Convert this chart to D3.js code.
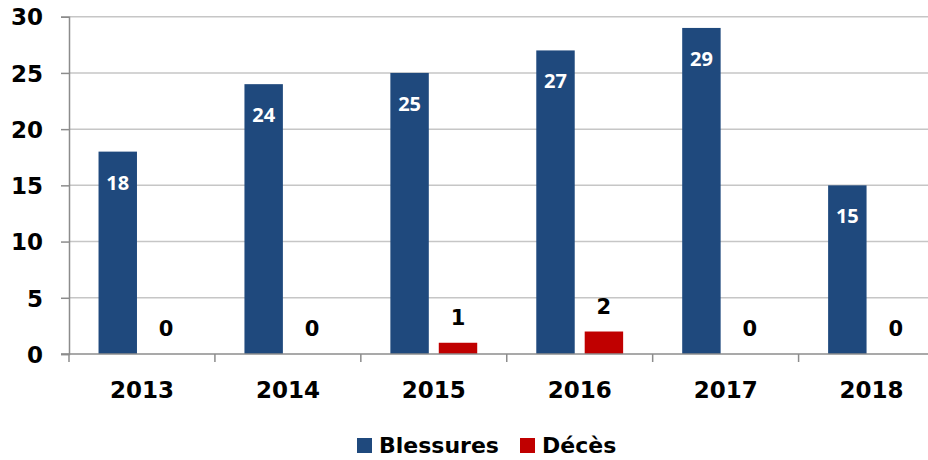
<!DOCTYPE html>
<html>
<head>
<meta charset="utf-8">
<script src="https://cdn.jsdelivr.net/npm/d3@7"></script>
<style>
  body { margin: 0; background: #fff; }
  svg text { font-family: "DejaVu Sans", sans-serif; font-weight: bold; }
</style>
</head>
<body>
<svg id="chart" width="928" height="460"></svg>
<script>
var years = ["2013", "2014", "2015", "2016", "2017", "2018"];
var blessures = [18, 24, 25, 27, 29, 15];
var deces = [0, 0, 1, 2, 0, 0];
var series = ["Blessures", "Décès"];
var colors = ["#1f497d", "#c00000"];
var y_ticks = [0, 5, 10, 15, 20, 25, 30];

var svg = d3.select("#chart");
var plot_left = 69, plot_right = 944.5, plot_top = 16.7, plot_bottom = 354;

var x = d3.scaleBand().domain(years).range([plot_left, plot_right]).paddingInner(0).paddingOuter(0);
var x_sub = d3.scaleBand().domain(series).range([0, x.bandwidth()]).paddingInner(0.206).paddingOuter(0.61);
var y = d3.scaleLinear().domain([0, 30]).range([plot_bottom, plot_top]);

var rows = years.map(function(d, i) {
    return { year: d, values: [blessures[i], deces[i]] };
});

// gridlines
svg.append("g")
    .selectAll("line")
    .data(y_ticks.slice(1))
    .enter()
    .append("line")
        .attr("x1", plot_left).attr("x2", 928)
        .attr("y1", function(d) { return y(d); })
        .attr("y2", function(d) { return y(d); })
        .attr("stroke", "#c6c6c6")
        .attr("stroke-width", 1.5)

// y axis
var y_axis = svg.append("g")
    .attr("transform", "translate(" + plot_left + ",0)")
    .call(d3.axisLeft(y).tickValues(y_ticks).tickSize(8).tickPadding(18))
y_axis.select(".domain").attr("stroke", "#8c8c8c").attr("stroke-width", 1.5)
y_axis.selectAll(".tick line").attr("stroke", "#8c8c8c").attr("stroke-width", 1.5)
y_axis.selectAll(".tick text")
    .attr("fill", "#000")
    .style("font-size", "23px")
    .attr("dy", "0.36em")

// bars
var groups = svg.append("g")
    .selectAll("g")
    .data(rows)
    .enter()
    .append("g")
        .attr("transform", function(d) { return "translate(" + x(d.year) + ",0)"; })

groups.selectAll("rect")
    .data(function(d) { return d.values; })
    .enter()
    .append("rect")
        .attr("x", function(d, i) { return x_sub(series[i]); })
        .attr("width", x_sub.bandwidth())
        .attr("y", function(d) { return y(d); })
        .attr("height", function(d) { return plot_bottom - y(d); })
        .attr("fill", function(d, i) { return colors[i]; })

// labels
groups.append("text")
    .attr("x", x_sub("Blessures") + x_sub.bandwidth() / 2)
    .attr("y", function(d) { return y(d.values[0]) + 38; })
    .attr("text-anchor", "middle")
    .attr("fill", "#fff")
    .style("font-family", "'Open Sans', sans-serif")
    .style("font-size", "20px")
    .text(function(d) { return d.values[0]; })

groups.append("text")
    .attr("x", x_sub("Décès") + x_sub.bandwidth() / 2)
    .attr("y", function(d) { return y(d.values[1]) - 18; })
    .attr("text-anchor", "middle")
    .attr("fill", "#000")
    .style("font-size", "21px")
    .text(function(d) { return d.values[1]; })

// x axis
var x_axis = svg.append("g")
    .attr("transform", "translate(0," + plot_bottom + ")")
    .call(d3.axisBottom(x).tickSize(0).tickPadding(28))
x_axis.select(".domain").remove()
x_axis.selectAll(".tick text")
    .attr("fill", "#000")
    .style("font-size", "23px")

svg.append("line")
    .attr("x1", plot_left - 8).attr("x2", 928)
    .attr("y1", plot_bottom).attr("y2", plot_bottom)
    .attr("stroke", "#8c8c8c").attr("stroke-width", 1.5)

svg.append("g")
    .selectAll("line")
    .data(years.concat([null]))
    .enter()
    .append("line")
        .attr("x1", function(d, i) { return plot_left + i * x.bandwidth(); })
        .attr("x2", function(d, i) { return plot_left + i * x.bandwidth(); })
        .attr("y1", plot_bottom).attr("y2", plot_bottom + 8)
        .attr("stroke", "#8c8c8c").attr("stroke-width", 1.5)

// legend
var legend_x = [357, 520];
var legend = svg.append("g")
    .selectAll("g")
    .data(series)
    .enter()
    .append("g")
        .attr("transform", function(d, i) { return "translate(" + legend_x[i] + ",438)"; })
legend.append("rect")
    .attr("width", 15).attr("height", 15)
    .attr("fill", function(d, i) { return colors[i]; })
legend.append("text")
    .attr("x", 22).attr("y", 15)
    .style("font-size", "22px")
    .text(function(d) { return d; })
</script>
</body>
</html>
